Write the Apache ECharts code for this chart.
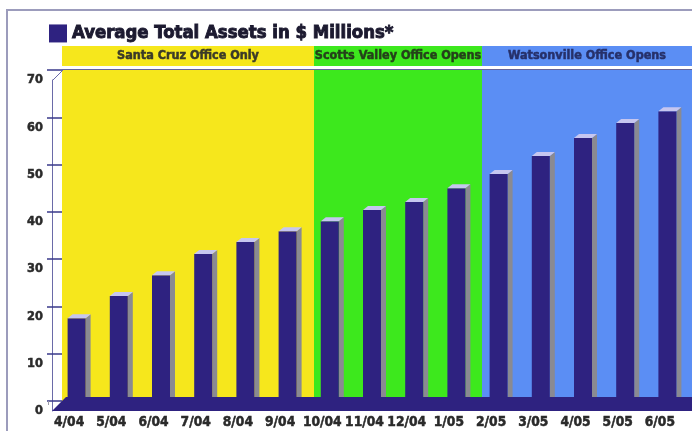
<!DOCTYPE html>
<html>
<head>
<meta charset="utf-8">
<script src="https://cdn.jsdelivr.net/npm/echarts@6/dist/echarts.min.js"></script>
<style>
html,body{margin:0;padding:0;background:#fff;}
#chart{width:692px;height:431px;}
</style>
</head>
<body>
<div id="chart"></div>
<script>
// ---- data ----
const categories = ['4/04','5/04','6/04','7/04','8/04','9/04','10/04','11/04','12/04','1/05','2/05','3/05','4/05','5/05','6/05'];
const assets = [17.5, 22.2, 26.6, 31.1, 33.6, 35.9, 38.0, 40.4, 42.1, 45.0, 48.0, 51.8, 55.6, 58.8, 61.3];
const seriesName = 'Average Total Assets in $ Millions*';
const yMin = 0, yMax = 70, yStep = 10;
const periods = ['Santa Cruz Office Only', 'Scotts Valley Office Opens', 'Watsonville Office Opens'];
const periodStart = [0, 6, 10];
const periodEnd = [6, 10, 15];

// ---- font helpers ----
const cv = document.createElement('canvas').getContext('2d');
function tw(text, font) { cv.font = font; return cv.measureText(text).width; }
function pickFamily(cands) {
  const probe = 'Average Total Assets 0123';
  for (const c of cands) {
    if (Math.abs(tw(probe, 'bold 20px "' + c + '", monospace') - tw(probe, 'bold 20px monospace')) > 0.5) return '"' + c + '"';
  }
  return 'sans-serif';
}
const FAM = pickFamily(['Liberation Sans Narrow', 'DejaVu Sans Condensed', 'Liberation Sans']);
function fit(text, width, maxSize) {
  const w = tw(text, 'bold 100px ' + FAM);
  return Math.min(maxSize, Math.floor(100 * width / w * 10) / 10);
}
const titleSize = fit(seriesName, 322, 23);
const headerSize = fit(periods[0], 142, 15);
const xLabSize = fit('10/04', 39, 16);
const yLabSize = fit('70', 16, 16);

// ---- styles ----
const periodColors = ['#f6e71c', '#3de81d', '#5b8ef4'];
const periodText = ['#3a3a28', '#24401a', '#26306a'];
const NAVY = '#2e2280';

const bands = periods.map((p, k) => [
  { xAxis: periodStart[k], itemStyle: { color: periodColors[k] } },
  { xAxis: periodEnd[k] }
]);
const headers = periods.map((p, k) => [
  { name: p, xAxis: periodStart[k], itemStyle: { color: periodColors[k] },
    label: { color: periodText[k], textBorderColor: periodText[k] } },
  { xAxis: periodEnd[k] }
]);

const chart = echarts.init(document.getElementById('chart'), null, { renderer: 'canvas' });
chart.setOption({
  animation: false,
  backgroundColor: '#fff',
  legend: {
    data: [seriesName],
    left: 44, top: 19,
    icon: 'rect', itemWidth: 18, itemHeight: 18,
    selectedMode: false,
    textStyle: { fontFamily: FAM, fontSize: titleSize, fontWeight: 'bold', color: '#1c1a30',
      textBorderColor: '#1c1a30', textBorderWidth: 0.9 }
  },
  grid: [
    { left: 62, right: 0, top: 70, bottom: 30 },   // back wall
    { left: 62, right: 0, top: 46, height: 20 },   // period headers
    { left: 48, right: 11, top: 70, bottom: 30 },  // bars
    { left: 52, right: 11, top: 80, bottom: 20 }   // front value axis
  ],
  xAxis: [
    { gridIndex: 0, type: 'value', min: 0, max: categories.length, show: false },
    { gridIndex: 1, type: 'value', min: 0, max: categories.length, show: false },
    { gridIndex: 2, type: 'category', data: categories, offset: 10,
      axisLine: { show: false },
      axisTick: { show: true, length: 4, lineStyle: { color: '#9a9aa8' } },
      axisLabel: { interval: 0, margin: 4, fontFamily: FAM, fontSize: xLabSize, fontWeight: 'bold', color: '#2a2a2a',
        textBorderColor: '#2a2a2a', textBorderWidth: 0.5 } },
    { gridIndex: 3, type: 'category', data: categories, show: false }
  ],
  yAxis: [
    { gridIndex: 0, type: 'value', min: yMin, max: yMax, interval: yStep,
      axisLine: { show: false },
      axisTick: { show: true, length: 15, lineStyle: { color: '#3a3a8a', width: 1.5 } },
      axisLabel: { show: false },
      splitLine: { show: true, lineStyle: { color: '#30307a', width: 1.5 } } },
    { gridIndex: 1, type: 'value', min: 0, max: 1, show: false },
    { gridIndex: 2, type: 'value', min: yMin, max: yMax, show: false },
    { gridIndex: 3, type: 'value', min: yMin, max: yMax, interval: yStep,
      axisLine: { show: true, lineStyle: { color: '#6a6aa8', width: 1 } },
      axisTick: { show: false },
      splitLine: { show: false },
      axisLabel: { margin: 9, fontFamily: FAM, fontSize: yLabSize, fontWeight: 'bold', color: '#2a2a2a',
        textBorderColor: '#2a2a2a', textBorderWidth: 0.5 } }
  ],
  graphic: [
    { type: 'rect', z: 0, shape: { x: 7, y: 10, width: 700, height: 440 },
      style: { fill: 'none', stroke: '#9c9cbc', lineWidth: 2 } },
    { type: 'line', z: 10, shape: { x1: 52, y1: 81, x2: 63, y2: 70 },
      style: { stroke: '#6a6aa8', lineWidth: 1 } },
    { type: 'polygon', z: 10, shape: { points: [[52,411],[66,397],[692,397],[692,411]] },
      style: { fill: NAVY } }
  ],
  series: [
    { type: 'line', xAxisIndex: 0, yAxisIndex: 0, data: [], silent: true,
      markArea: { silent: true, data: bands } },
    { type: 'line', xAxisIndex: 1, yAxisIndex: 1, data: [], silent: true,
      markArea: { silent: true, data: headers,
        label: { show: true, position: 'inside', fontFamily: FAM, fontSize: headerSize, fontWeight: 'bold',
          textBorderWidth: 0.5 } } },
    { name: seriesName, type: 'custom', xAxisIndex: 2, yAxisIndex: 2,
      itemStyle: { color: NAVY },
      data: assets.map((v, i) => [i, v]),
      renderItem: function (params, api) {
        const i = api.value(0), v = api.value(1);
        const top = api.coord([i, v]);
        const bot = api.coord([i, 0]);
        const w = 18, dx = 5, dy = 4, off = 7.5;
        const xl = top[0] + off - w / 2, xr = xl + w;
        const yb = bot[1] + 8;
        return { type: 'group', children: [
          { type: 'polygon', shape: { points: [[xr, top[1]], [xr + dx, top[1] - dy], [xr + dx, yb - dy], [xr, yb]] },
            style: { fill: '#8a8a92' } },
          { type: 'rect', shape: { x: xl, y: top[1], width: w, height: yb - top[1] },
            style: { fill: NAVY } },
          { type: 'polygon', shape: { points: [[xl, top[1]], [xl + dx, top[1] - dy], [xr + dx, top[1] - dy], [xr, top[1]]] },
            style: { fill: '#c6c6f0' } }
        ]};
      }
    }
  ]
});
</script>
</body>
</html>
